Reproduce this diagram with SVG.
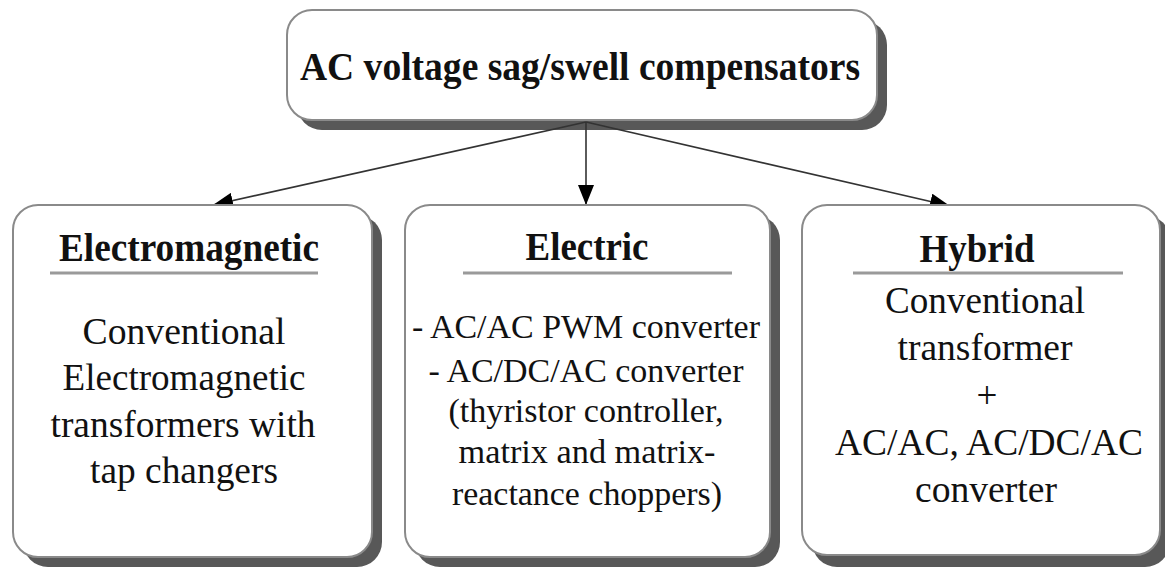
<svg xmlns="http://www.w3.org/2000/svg" width="1165" height="572" viewBox="0 0 1165 572">
<defs>
<style>
.box{fill:#fff;stroke:#8a8a8a;stroke-width:2}
.shadow{fill:#585858}
.ul{stroke:#9a9a9a;stroke-width:3}
.hd{font-family:"Liberation Serif","Times New Roman",serif;font-weight:bold;font-size:40px;fill:#111;text-anchor:middle}
.tx{font-family:"Liberation Serif","Times New Roman",serif;font-size:37px;fill:#111;text-anchor:middle}
.tm{font-family:"Liberation Serif","Times New Roman",serif;font-size:33px;fill:#111;text-anchor:middle}
.conn{stroke:#333;stroke-width:1.6;fill:none;marker-end:url(#ah)}
</style>
<marker id="ah" markerUnits="userSpaceOnUse" markerWidth="22" markerHeight="16" refX="20" refY="8" orient="auto">
<path d="M0,0 L20,8 L0,16 Z" fill="#000"/>
</marker>
</defs>
<g id="root">
<rect class="shadow" x="297" y="20" width="590" height="110" rx="25"/>
<rect class="box" x="287" y="10" width="590" height="110" rx="25"/>
<text class="hd" x="580" y="80" textLength="560" lengthAdjust="spacingAndGlyphs">AC voltage sag/swell compensators</text>
</g>
<g id="connectors">
<line class="conn" x1="586" y1="122" x2="213" y2="205"/>
<line class="conn" x1="586" y1="122" x2="586" y2="205"/>
<line class="conn" x1="586" y1="122" x2="950" y2="206"/>
</g>
<g id="electromagnetic">
<rect class="shadow" x="23" y="215" width="359" height="352" rx="25"/>
<rect class="box" x="13" y="205" width="359" height="352" rx="25"/>
<text class="hd" x="189" y="261" textLength="260" lengthAdjust="spacingAndGlyphs">Electromagnetic</text>
<line class="ul" x1="50" y1="273" x2="318" y2="273"/>
<text class="tx" x="184" y="344" textLength="203" lengthAdjust="spacingAndGlyphs">Conventional</text>
<text class="tx" x="184" y="390" textLength="243" lengthAdjust="spacingAndGlyphs">Electromagnetic</text>
<text class="tx" x="183" y="437" textLength="265" lengthAdjust="spacingAndGlyphs">transformers with</text>
<text class="tx" x="184" y="483" textLength="188" lengthAdjust="spacingAndGlyphs">tap changers</text>
</g>
<g id="electric">
<rect class="shadow" x="415" y="215" width="365" height="352" rx="25"/>
<rect class="box" x="405" y="205" width="365" height="352" rx="25"/>
<text class="hd" x="587" y="260" textLength="123" lengthAdjust="spacingAndGlyphs">Electric</text>
<line class="ul" x1="463" y1="273" x2="732" y2="273"/>
<text class="tm" x="586" y="338" textLength="348" lengthAdjust="spacingAndGlyphs">- AC/AC PWM converter</text>
<text class="tm" x="586" y="382" textLength="315" lengthAdjust="spacingAndGlyphs">- AC/DC/AC converter</text>
<text class="tm" x="586" y="422" textLength="275" lengthAdjust="spacingAndGlyphs">(thyristor controller,</text>
<text class="tm" x="587" y="463" textLength="257" lengthAdjust="spacingAndGlyphs">matrix and matrix-</text>
<text class="tm" x="587" y="505" textLength="270" lengthAdjust="spacingAndGlyphs">reactance choppers)</text>
</g>
<g id="hybrid">
<rect class="shadow" x="812" y="215" width="358" height="352" rx="25"/>
<rect class="box" x="802" y="205" width="358" height="350" rx="25"/>
<text class="hd" x="977" y="262" textLength="115" lengthAdjust="spacingAndGlyphs">Hybrid</text>
<line class="ul" x1="853" y1="273" x2="1123" y2="273"/>
<text class="tx" x="985" y="313" textLength="200" lengthAdjust="spacingAndGlyphs">Conventional</text>
<text class="tx" x="985" y="360" textLength="175" lengthAdjust="spacingAndGlyphs">transformer</text>
<text class="tx" x="987" y="408">+</text>
<text class="tx" x="989" y="455" textLength="308" lengthAdjust="spacingAndGlyphs">AC/AC, AC/DC/AC</text>
<text class="tx" x="986" y="502" textLength="142" lengthAdjust="spacingAndGlyphs">converter</text>
</g>
</svg>
